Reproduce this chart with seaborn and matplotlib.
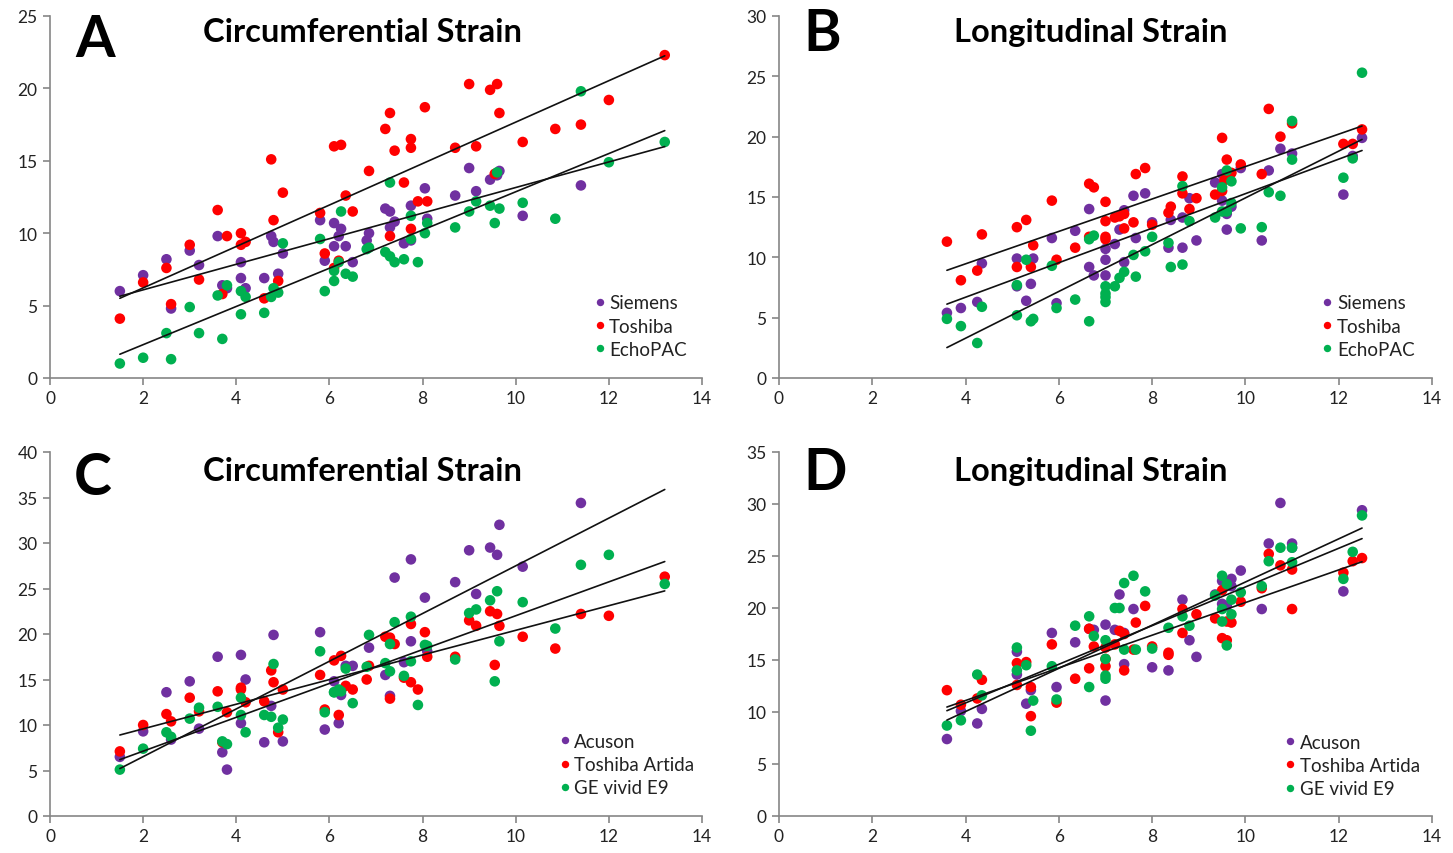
import matplotlib
matplotlib.use("Agg")
import numpy as np
import pandas as pd
import seaborn as sns
import matplotlib.pyplot as plt

# ---------------- data ----------------
# Panel A : Circumferential strain
siemens_A_x = [1.5, 2.0, 2.5, 2.6, 3.0, 3.2, 3.6, 3.7, 3.8, 4.1, 4.1, 4.2, 4.6, 4.75, 4.8, 4.9, 5.0,
               5.8, 5.9, 6.1, 6.1, 6.2, 6.25, 6.35, 6.5, 6.8, 6.85,
               7.2, 7.3, 7.3, 7.4, 7.6, 7.75, 7.75, 8.05, 8.1, 8.7,
               9.0, 9.15, 9.45, 9.6, 9.65, 10.15, 11.4]
siemens_A_y = [6.0, 7.1, 8.2, 4.8, 8.8, 7.8, 9.8, 6.4, 6.2, 8.0, 6.9, 6.2, 6.9, 9.8, 9.4, 7.2, 8.6,
               10.9, 8.1, 10.7, 9.1, 9.8, 10.3, 9.1, 8.0, 9.5, 10.0,
               11.7, 11.5, 10.4, 10.8, 9.3, 11.9, 9.5, 13.1, 11.0, 12.6,
               14.5, 12.9, 13.7, 14.0, 14.3, 11.2, 13.3]
toshiba_A_x = [1.5, 2.0, 2.5, 2.6, 3.0, 3.2, 3.6, 3.7, 3.8, 4.1, 4.1, 4.2, 4.6, 4.75, 4.8, 4.9, 5.0,
               5.8, 5.9, 6.1, 6.1, 6.2, 6.25, 6.35, 6.5, 6.85,
               7.2, 7.3, 7.3, 7.4, 7.6, 7.75, 7.75, 7.75, 7.9, 8.05, 8.1, 8.7,
               9.0, 9.15, 9.45, 9.55, 9.6, 9.65, 10.15, 10.85, 11.4, 12.0, 13.2]
toshiba_A_y = [4.1, 6.6, 7.6, 5.1, 9.2, 6.8, 11.6, 5.8, 9.8, 9.2, 10.0, 9.4, 5.5, 15.1, 10.9, 6.7, 12.8,
               11.4, 8.6, 7.6, 16.0, 8.1, 16.1, 12.6, 11.5, 14.3,
               17.2, 18.3, 9.8, 15.7, 13.5, 16.5, 15.9, 10.3, 12.2, 18.7, 12.2, 15.9,
               20.3, 16.0, 19.9, 14.1, 20.3, 18.3, 16.3, 17.2, 17.5, 19.2, 22.3]
echo_A_x = [1.5, 2.0, 2.5, 2.6, 3.0, 3.2, 3.6, 3.7, 3.8, 4.1, 4.1, 4.2, 4.6, 4.75, 4.8, 4.9, 5.0,
            5.8, 5.9, 6.1, 6.1, 6.2, 6.25, 6.35, 6.5, 6.8, 6.85,
            7.2, 7.3, 7.3, 7.4, 7.6, 7.75, 7.75, 7.9, 8.05, 8.1, 8.7,
            9.0, 9.15, 9.45, 9.55, 9.6, 9.65, 10.15, 10.85, 11.4, 12.0, 13.2]
echo_A_y = [1.0, 1.4, 3.1, 1.3, 4.9, 3.1, 5.7, 2.7, 6.4, 6.0, 4.4, 5.6, 4.5, 5.6, 6.2, 5.9, 9.3,
            9.6, 6.0, 6.7, 7.4, 8.0, 11.5, 7.2, 7.0, 8.9, 9.0,
            8.7, 8.4, 13.5, 8.0, 8.2, 11.2, 9.6, 8.0, 10.0, 10.7, 10.4,
            11.5, 12.2, 11.9, 10.7, 14.2, 11.7, 12.1, 11.0, 19.8, 14.9, 16.3]

# Panel B : Longitudinal strain
siemens_B_x = [3.6, 3.9, 4.25, 4.35, 5.1, 5.1, 5.3, 5.4, 5.45, 5.85, 5.95, 6.35,
               6.65, 6.65, 6.75, 7.0, 7.0, 7.0, 7.2, 7.3, 7.4, 7.4, 7.6, 7.65, 7.85, 8.0,
               8.35, 8.4, 8.65, 8.65, 8.8, 8.95, 9.35, 9.5, 9.5, 9.6, 9.6, 9.7, 9.9,
               10.35, 10.5, 10.75, 11.0, 12.1, 12.3, 12.5]
siemens_B_y = [5.4, 5.8, 6.3, 9.5, 9.9, 7.6, 6.4, 7.8, 9.9, 11.6, 6.2, 12.2,
               14.0, 9.2, 8.5, 9.8, 8.5, 10.7, 11.1, 12.3, 13.9, 9.6, 15.1, 11.6, 15.3, 12.9,
               10.8, 13.1, 10.8, 13.3, 14.9, 11.4, 16.2, 16.9, 14.7, 12.3, 13.6, 14.2, 17.4,
               11.4, 17.2, 19.0, 18.6, 15.2, 18.4, 19.9]
toshiba_B_x = [3.6, 3.9, 4.25, 4.35, 5.1, 5.1, 5.3, 5.4, 5.45, 5.85, 5.95, 6.35,
               6.65, 6.75, 6.65, 7.0, 7.0, 7.0, 7.0, 7.2, 7.3, 7.4, 7.4, 7.6, 7.65, 7.85, 8.0,
               8.35, 8.4, 8.65, 8.65, 8.8, 8.95, 9.35, 9.5, 9.5, 9.55, 9.6, 9.7, 9.9,
               10.35, 10.5, 10.75, 11.0, 12.1, 12.3, 12.5]
toshiba_B_y = [11.3, 8.1, 8.9, 11.9, 12.5, 9.2, 13.1, 9.2, 11.0, 14.7, 9.8, 10.8,
               16.1, 15.8, 11.7, 14.6, 13.0, 11.7, 11.5, 13.3, 13.4, 13.6, 12.4, 12.9, 16.9, 17.4, 12.7,
               13.7, 14.2, 16.7, 15.3, 14.0, 14.9, 15.2, 19.9, 15.5, 16.4, 18.1, 17.0, 17.7,
               16.9, 22.3, 20.0, 21.1, 19.4, 19.4, 20.6]
echo_B_x = [3.6, 3.9, 4.25, 4.35, 5.1, 5.1, 5.3, 5.4, 5.45, 5.85, 5.95, 6.35,
            6.65, 6.65, 6.75, 7.0, 7.0, 7.0, 7.0, 7.2, 7.3, 7.4, 7.6, 7.65, 7.85, 8.0,
            8.35, 8.4, 8.65, 8.65, 8.8, 9.35, 9.5, 9.5, 9.6, 9.6, 9.7, 9.7, 9.9,
            10.35, 10.5, 10.75, 11.0, 11.0, 12.1, 12.3, 12.5]
echo_B_y = [4.9, 4.3, 2.9, 5.9, 7.7, 5.2, 9.8, 4.7, 4.9, 9.3, 5.8, 6.5,
            4.7, 11.5, 11.8, 7.6, 7.0, 6.3, 6.7, 7.6, 8.3, 8.8, 10.2, 8.4, 10.5, 11.7,
            11.2, 9.2, 15.9, 9.4, 13.0, 13.3, 15.8, 13.8, 17.2, 13.8, 16.3, 14.5, 12.4,
            12.5, 15.4, 15.1, 21.3, 18.1, 16.6, 18.2, 25.3]

# Panel C : Circumferential strain
acuson_C_x = [1.5, 2.0, 2.5, 2.6, 3.0, 3.2, 3.6, 3.7, 3.8, 4.1, 4.1, 4.2, 4.6, 4.75, 4.8, 5.0,
              5.8, 5.9, 6.1, 6.2, 6.25, 6.35, 6.5, 6.85,
              7.2, 7.3, 7.4, 7.6, 7.75, 7.75, 8.05, 8.1, 8.7,
              9.0, 9.15, 9.45, 9.6, 9.65, 10.15, 11.4]
acuson_C_y = [6.5, 9.3, 13.6, 8.4, 14.8, 9.6, 17.5, 7.0, 5.1, 17.7, 10.2, 15.0, 8.1, 12.1, 19.9, 8.2,
              20.2, 9.5, 14.8, 10.2, 13.3, 16.5, 16.5, 18.5,
              15.5, 13.2, 26.2, 16.9, 28.2, 19.2, 24.0, 18.1, 25.7,
              29.2, 24.4, 29.5, 28.7, 32.0, 27.4, 34.4]
artida_C_x = [1.5, 2.0, 2.5, 2.6, 3.0, 3.2, 3.6, 3.7, 3.8, 4.1, 4.1, 4.2, 4.6, 4.75, 4.8, 4.9, 5.0,
              5.8, 5.9, 6.1, 6.2, 6.25, 6.35, 6.5, 6.8, 6.85,
              7.2, 7.3, 7.3, 7.4, 7.6, 7.75, 7.75, 7.9, 8.05, 8.1, 8.7,
              9.0, 9.15, 9.45, 9.55, 9.6, 9.65, 10.15, 10.85, 11.4, 12.0, 13.2]
artida_C_y = [7.1, 10.0, 11.2, 10.4, 13.0, 11.5, 13.7, 8.1, 11.4, 13.9, 14.1, 12.5, 12.6, 16.0, 14.7, 9.2, 13.9,
              15.5, 11.7, 17.1, 11.1, 17.6, 14.3, 13.9, 15.0, 16.5,
              19.7, 12.9, 19.6, 18.9, 15.2, 14.7, 21.1, 13.9, 20.2, 17.5, 17.5,
              21.5, 20.9, 22.5, 16.6, 22.2, 20.9, 19.7, 18.4, 22.2, 22.0, 26.3]
gevivid_C_x = [1.5, 2.0, 2.5, 2.6, 3.0, 3.2, 3.6, 3.7, 3.8, 4.1, 4.1, 4.2, 4.6, 4.75, 4.8, 4.9, 5.0,
               5.8, 5.9, 6.1, 6.1, 6.2, 6.25, 6.35, 6.5, 6.8, 6.85,
               7.2, 7.3, 7.3, 7.4, 7.6, 7.75, 7.75, 7.9, 8.05, 8.1, 8.7,
               9.0, 9.15, 9.45, 9.55, 9.6, 9.65, 10.15, 10.85, 11.4, 12.0, 13.2]
gevivid_C_y = [5.1, 7.4, 9.2, 8.7, 10.7, 11.9, 12.0, 8.2, 7.9, 13.0, 11.1, 9.2, 11.1, 10.9, 16.7, 9.7, 10.6,
               18.1, 11.4, 13.6, 13.6, 13.9, 13.7, 16.2, 12.4, 16.4, 19.9,
               16.8, 18.9, 15.9, 21.3, 15.4, 21.9, 17.0, 12.2, 18.8, 18.7, 17.2,
               22.3, 22.7, 23.7, 14.8, 24.7, 19.2, 23.5, 20.6, 27.6, 28.7, 25.5]

# Panel D : Longitudinal strain
acuson_D_x = [3.6, 3.9, 4.25, 4.35, 5.1, 5.1, 5.3, 5.4, 5.95, 5.85,
              6.35, 6.65, 6.75, 7.0, 7.0, 7.2, 7.3, 7.4, 7.4, 7.6,
              8.0, 8.35, 8.65, 8.8, 8.95, 9.35, 9.5, 9.5, 9.6, 9.6,
              9.7, 9.7, 9.9, 10.35, 10.5, 10.75, 11.0, 11.0, 12.1, 12.5]
acuson_D_y = [7.4, 10.1, 8.9, 10.3, 15.8, 13.6, 10.8, 12.1, 12.4, 17.6,
              16.7, 18.0, 17.9, 18.4, 11.1, 17.9, 21.3, 17.6, 14.6, 19.9,
              14.3, 14.0, 20.8, 16.9, 15.3, 21.3, 22.6, 20.4, 20.2, 22.4,
              22.8, 22.1, 23.6, 19.9, 26.2, 30.1, 26.2, 25.8, 21.6, 29.4]
artida_D_x = [3.6, 3.9, 4.25, 4.35, 5.1, 5.1, 5.3, 5.4, 5.4, 5.85,
              5.95, 6.35, 6.65, 6.65, 6.75, 7.0, 7.0, 7.0, 7.2, 7.3,
              7.4, 7.4, 7.6, 7.65, 7.85, 8.0, 8.35, 8.35, 8.65, 8.65,
              8.95, 9.35, 9.5, 9.5, 9.6, 9.6, 9.7, 9.9, 10.35, 10.5,
              10.75, 11.0, 11.0, 12.1, 12.3, 12.5]
artida_D_y = [12.1, 10.7, 11.3, 13.1, 14.7, 12.6, 14.8, 12.4, 9.6, 16.5,
              10.9, 13.2, 14.2, 18.0, 16.3, 15.1, 14.4, 16.2, 16.5, 17.8,
              17.5, 14.0, 16.0, 18.6, 20.2, 16.3, 15.5, 15.7, 19.9, 17.6,
              19.4, 19.0, 21.7, 17.1, 16.9, 18.7, 18.6, 20.6, 21.9, 25.2,
              24.1, 23.7, 19.9, 23.4, 24.5, 24.8]
gevivid_D_x = [3.6, 3.9, 4.25, 4.35, 5.1, 5.1, 5.3, 5.4, 5.45, 5.85,
               5.95, 6.35, 6.65, 6.65, 6.75, 7.0, 7.0, 7.0, 7.0, 7.2,
               7.3, 7.4, 7.4, 7.6, 7.65, 7.85, 8.0, 8.35, 8.65, 8.8,
               9.35, 9.5, 9.5, 9.5, 9.6, 9.6, 9.7, 9.7, 9.9, 10.35,
               10.5, 10.75, 11.0, 11.0, 12.1, 12.3, 12.5]
gevivid_D_y = [8.7, 9.2, 13.6, 11.6, 16.2, 14.0, 14.5, 8.2, 11.1, 14.4,
               11.2, 18.3, 12.4, 19.2, 17.3, 16.9, 15.1, 13.5, 13.2, 20.0,
               20.0, 22.4, 16.0, 23.1, 16.0, 21.6, 16.1, 18.1, 19.2, 18.3,
               21.2, 23.1, 18.7, 19.9, 22.3, 16.4, 20.8, 19.4, 21.5, 22.1,
               24.5, 25.8, 25.8, 24.4, 22.8, 25.4, 28.9]

labels_top = ["Siemens", "Toshiba", "EchoPAC"]
labels_bottom = ["Acuson", "Toshiba Artida", "GE vivid E9"]
titles = ["Circumferential Strain", "Longitudinal Strain",
          "Circumferential Strain", "Longitudinal Strain"]
letters = ["A", "B", "C", "D"]
y_max = [25, 30, 40, 35]
colors = ["#7030A0", "#FF0000", "#00B050"]

panels = [
    (labels_top, [(siemens_A_x, siemens_A_y), (toshiba_A_x, toshiba_A_y), (echo_A_x, echo_A_y)]),
    (labels_top, [(siemens_B_x, siemens_B_y), (toshiba_B_x, toshiba_B_y), (echo_B_x, echo_B_y)]),
    (labels_bottom, [(acuson_C_x, acuson_C_y), (artida_C_x, artida_C_y), (gevivid_C_x, gevivid_C_y)]),
    (labels_bottom, [(acuson_D_x, acuson_D_y), (artida_D_x, artida_D_y), (gevivid_D_x, gevivid_D_y)]),
]

# ---------------- style ----------------
sns.set_theme(style="white")
plt.rcParams["font.family"] = ["Lato", "DejaVu Sans"]

W, H = 1453, 854
fig = plt.figure(figsize=(W / 100, H / 100), dpi=100)

# axes boxes in pixels: (left, right, top, bottom)
boxes = [(50, 702, 17, 379), (779, 1432, 17, 379),
         (50, 702, 453, 817), (779, 1432, 453, 817)]
letter_pos = [(0.069, 0.934), (0.066, 0.953), (0.066, 0.929), (0.070, 0.945)]
title_pos = [(0.479, 0.958), (0.478, 0.958), (0.479, 0.950), (0.478, 0.950)]
legend_anchor = [(0.830, 0.056), (0.827, 0.056), (0.777, 0.054), (0.770, 0.052)]

spine_col = "#868686"
for i, (labels, series) in enumerate(panels):
    l, r, t, b = boxes[i]
    ax = fig.add_axes([l / W, 1 - b / H, (r - l) / W, (b - t) / H])
    frames = []
    for lab, (xs, ys) in zip(labels, series):
        frames.append(pd.DataFrame({"x": xs, "y": ys, "series": lab}))
    df = pd.concat(frames, ignore_index=True)
    sns.scatterplot(data=df, x="x", y="y", hue="series", hue_order=labels,
                    palette=colors, s=58, linewidth=0, ax=ax, zorder=2)
    # linear trend lines over the panel's data range
    xr = np.array([df["x"].min(), df["x"].max()])
    for lab, (xs, ys) in zip(labels, series):
        m, c = np.polyfit(xs, ys, 1)
        ax.plot(xr, m * xr + c, color="#111111", lw=1.2, zorder=3)

    ax.set_xlim(0, 14)
    ax.set_ylim(0, y_max[i])
    ax.set_xticks(np.arange(0, 15, 2))
    ax.set_yticks(np.arange(0, y_max[i] + 1, 5))
    ax.set_xlabel("")
    ax.set_ylabel("")
    for s in ["top", "right"]:
        ax.spines[s].set_visible(False)
    for s in ["left", "bottom"]:
        ax.spines[s].set_color(spine_col)
        ax.spines[s].set_linewidth(1.2)
    ax.tick_params(axis="both", which="major", direction="out", length=5, width=1.2,
                   color=spine_col, labelsize=12.5, labelcolor="#222222", pad=4)
    ax.tick_params(axis="x", bottom=True)
    ax.tick_params(axis="y", left=True)

    ax.text(*letter_pos[i], letters[i], transform=ax.transAxes, ha="center", va="center",
            fontsize=41, fontweight="bold", color="black")
    ax.text(*title_pos[i], titles[i], transform=ax.transAxes, ha="center", va="center",
            fontsize=23.5, fontweight="bold", color="black")

    leg = ax.legend(loc="lower left", bbox_to_anchor=legend_anchor[i], frameon=False,
                    fontsize=13.5, handletextpad=0.05, labelspacing=0.33,
                    borderpad=0, borderaxespad=0, handlelength=0.9, markerscale=0.7)
    for txt in leg.get_texts():
        txt.set_color("#222222")

fig.savefig("out.png", dpi=100)
